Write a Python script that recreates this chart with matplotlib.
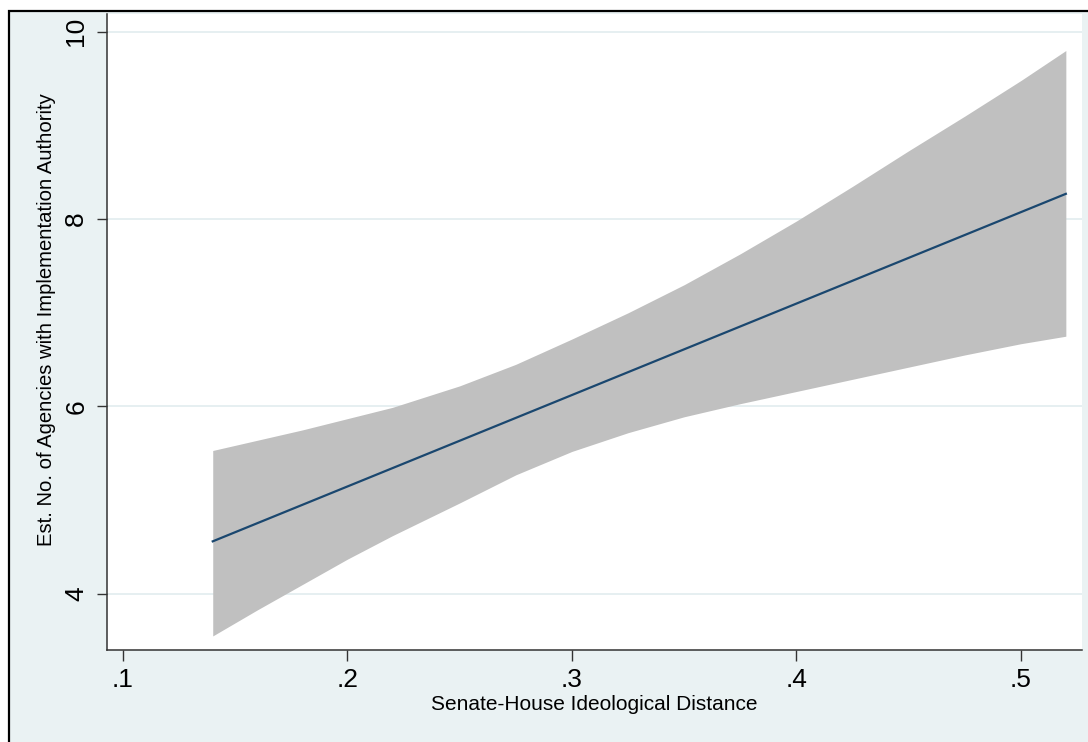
import matplotlib
matplotlib.use("Agg")
import matplotlib.pyplot as plt
from matplotlib.patches import Rectangle

# predicted number of agencies vs senate-house distance
dist = [0.14, 0.16, 0.18, 0.20, 0.22, 0.25, 0.275, 0.30, 0.325, 0.35,
        0.375, 0.40, 0.425, 0.45, 0.475, 0.50, 0.52]
upper = [5.53, 5.64, 5.75, 5.87, 5.99, 6.22, 6.45, 6.72, 7.00, 7.30,
         7.63, 7.98, 8.35, 8.73, 9.10, 9.48, 9.80]
lower = [3.55, 3.83, 4.10, 4.37, 4.62, 4.97, 5.27, 5.52, 5.72, 5.89,
         6.03, 6.16, 6.29, 6.42, 6.55, 6.67, 6.75]
line_x = [0.14, 0.52]
line_y = [4.56, 8.27]

xticks = [0.1, 0.2, 0.3, 0.4, 0.5]
xtick_labels = [".1", ".2", ".3", ".4", ".5"]
yticks = [4, 6, 8, 10]
ytick_labels = ["4", "6", "8", "10"]

plt.rcParams['font.family'] = ['Liberation Sans', 'DejaVu Sans']

W, H = 1088, 742
fig = plt.figure(figsize=(W / 100, H / 100), dpi=100, facecolor='white')

# stata style graph region (light blue with black frame), cut off at right/bottom
fig.patches.append(Rectangle((9 / W, -0.05), 1.1, (H - 11) / H + 0.05,
                             transform=fig.transFigure, facecolor='#EAF2F3',
                             edgecolor='black', lw=1.6, zorder=-5))

ax = fig.add_axes([107 / W, (H - 650) / H, (1082 - 107) / W, (650 - 14) / H])
ax.set_facecolor('white')

ax.fill_between(dist, lower, upper, color='#C0C0C0', lw=0, zorder=2)
ax.plot(line_x, line_y, color='#1A476F', lw=1.6, zorder=3)

ax.set_xlim(0.0929, 0.5272)
ax.set_ylim(3.40, 10.19)

for y in yticks:
    ax.axhline(y, color='#E6EFF1', lw=1.4, zorder=1)

ax.set_xticks(xticks)
ax.set_xticklabels(xtick_labels, fontsize=19)
ax.set_yticks(yticks)
ax.set_yticklabels(ytick_labels, fontsize=19, rotation=90, va='center')

ax.tick_params(axis='x', direction='out', length=8, width=1, color='#333333', pad=5)
ax.tick_params(axis='y', direction='out', length=7.5, width=1, color='#333333', pad=6)

for s in ['top', 'right']:
    ax.spines[s].set_visible(False)
for s in ['left', 'bottom']:
    ax.spines[s].set_color('#333333')
    ax.spines[s].set_linewidth(1.1)

ax.set_xlabel("Senate-House Ideological Distance", fontsize=15, labelpad=2)
ax.set_ylabel("Est. No. of Agencies with Implementation Authority", fontsize=14.6)
ax.yaxis.set_label_coords(-0.052, 0.52)

fig.savefig("out.png", dpi=100, facecolor=fig.get_facecolor())
